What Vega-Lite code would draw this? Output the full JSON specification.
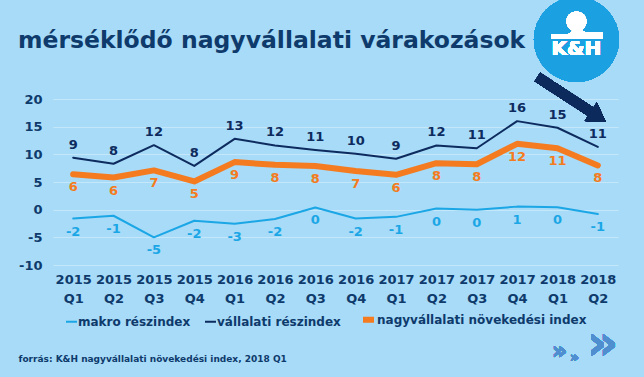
{
  "$schema": "https://vega.github.io/schema/vega-lite/v6.json",
  "width": 565,
  "height": 166,
  "autosize": {"type": "none"},
  "padding": {"left": 53, "top": 99, "right": 26, "bottom": 112},
  "background": "#a7dbf7",
  "config": {
    "view": {"stroke": null},
    "font": "DejaVu Sans",
    "axisY": {"tickCount": 7, "labelOverlap": false},
    "locale": {"number": {"decimal": ".", "thousands": ",", "grouping": [3], "currency": ["$", ""], "minus": "-"}}
  },
  "title": {
    "text": "mérséklődő nagyvállalati várakozások",
    "anchor": "start",
    "frame": "group",
    "font": "DejaVu Sans",
    "fontSize": 23.5,
    "fontWeight": "bold",
    "color": "#0e3a6c",
    "dx": -35,
    "offset": 0,
    "dy": 75,
    "baseline": "alphabetic"
  },
  "data": {
    "values": [
      {"q": "2015 Q1", "s": "makro részindex", "v": -1.6},
      {"q": "2015 Q2", "s": "makro részindex", "v": -1.1},
      {"q": "2015 Q3", "s": "makro részindex", "v": -5.0},
      {"q": "2015 Q4", "s": "makro részindex", "v": -2.0},
      {"q": "2016 Q1", "s": "makro részindex", "v": -2.55},
      {"q": "2016 Q2", "s": "makro részindex", "v": -1.7},
      {"q": "2016 Q3", "s": "makro részindex", "v": 0.4},
      {"q": "2016 Q4", "s": "makro részindex", "v": -1.6},
      {"q": "2017 Q1", "s": "makro részindex", "v": -1.3},
      {"q": "2017 Q2", "s": "makro részindex", "v": 0.2},
      {"q": "2017 Q3", "s": "makro részindex", "v": 0.0},
      {"q": "2017 Q4", "s": "makro részindex", "v": 0.55},
      {"q": "2018 Q1", "s": "makro részindex", "v": 0.45},
      {"q": "2018 Q2", "s": "makro részindex", "v": -0.8},
      {"q": "2015 Q1", "s": "vállalati részindex", "v": 9.4},
      {"q": "2015 Q2", "s": "vállalati részindex", "v": 8.3},
      {"q": "2015 Q3", "s": "vállalati részindex", "v": 11.65},
      {"q": "2015 Q4", "s": "vállalati részindex", "v": 7.9},
      {"q": "2016 Q1", "s": "vállalati részindex", "v": 12.8},
      {"q": "2016 Q2", "s": "vállalati részindex", "v": 11.6},
      {"q": "2016 Q3", "s": "vállalati részindex", "v": 10.8},
      {"q": "2016 Q4", "s": "vállalati részindex", "v": 10.1},
      {"q": "2017 Q1", "s": "vállalati részindex", "v": 9.2},
      {"q": "2017 Q2", "s": "vállalati részindex", "v": 11.6},
      {"q": "2017 Q3", "s": "vállalati részindex", "v": 11.1},
      {"q": "2017 Q4", "s": "vállalati részindex", "v": 16.0},
      {"q": "2018 Q1", "s": "vállalati részindex", "v": 14.8},
      {"q": "2018 Q2", "s": "vállalati részindex", "v": 11.35},
      {"q": "2015 Q1", "s": "nagyvállalati növekedési index", "v": 6.4},
      {"q": "2015 Q2", "s": "nagyvállalati növekedési index", "v": 5.8},
      {"q": "2015 Q3", "s": "nagyvállalati növekedési index", "v": 7.1},
      {"q": "2015 Q4", "s": "nagyvállalati növekedési index", "v": 5.1},
      {"q": "2016 Q1", "s": "nagyvállalati növekedési index", "v": 8.6},
      {"q": "2016 Q2", "s": "nagyvállalati növekedési index", "v": 8.1},
      {"q": "2016 Q3", "s": "nagyvállalati növekedési index", "v": 7.9},
      {"q": "2016 Q4", "s": "nagyvállalati növekedési index", "v": 7.0},
      {"q": "2017 Q1", "s": "nagyvállalati növekedési index", "v": 6.3},
      {"q": "2017 Q2", "s": "nagyvállalati növekedési index", "v": 8.4},
      {"q": "2017 Q3", "s": "nagyvállalati növekedési index", "v": 8.2},
      {"q": "2017 Q4", "s": "nagyvállalati növekedési index", "v": 11.9},
      {"q": "2018 Q1", "s": "nagyvállalati növekedési index", "v": 11.1},
      {"q": "2018 Q2", "s": "nagyvállalati növekedési index", "v": 8.0}
    ]
  },
  "layer": [
    {
      "mark": {"type": "line", "strokeCap": "round", "strokeJoin": "round"},
      "encoding": {
        "x": {
          "field": "q", "type": "ordinal",
          "scale": {"type": "point", "padding": 0.5},
          "axis": {
            "title": "forrás: K&H nagyvállalati növekedési index, 2018 Q1",
            "titleX": -35, "titleY": 93, "titleAlign": "left", "titleBaseline": "middle",
            "titleFont": "DejaVu Sans", "titleFontSize": 9, "titleFontWeight": "bold", "titleColor": "#0e3a6c",
            "labelExpr": "split(datum.label, ' ')",
            "labelAngle": 0, "labelFont": "DejaVu Sans", "labelFontSize": 13, "labelFontWeight": "bold",
            "labelColor": "#0e3a6c", "labelLineHeight": 19, "labelPadding": 8,
            "ticks": false, "domain": false, "grid": false
          }
        },
        "y": {
          "field": "v", "type": "quantitative",
          "scale": {"domain": [-10, 20], "nice": false, "zero": false},
          "axis": {
            "title": null, "values": [-10, -5, 0, 5, 10, 15, 20], "tickCount": 7,
            "labelOverlap": false, "labelBound": false,
            "labelFont": "DejaVu Sans", "labelFontSize": 13, "labelFontWeight": "bold", "labelColor": "#0e3a6c",
            "labelPadding": 11, "ticks": false, "domain": false,
            "gridColor": "#ffffff", "gridOpacity": 0.35, "gridWidth": 1
          }
        },
        "color": {
          "field": "s", "type": "nominal",
          "scale": {"domain": ["makro részindex", "vállalati részindex", "nagyvállalati növekedési index"], "range": ["#1ba6e6", "#0d2b5e", "#f47b20"]},
          "legend": {
            "title": null, "orient": "none", "legendX": 12, "legendY": 212, "direction": "horizontal",
            "symbolType": "stroke", "symbolSize": 121, "labelFont": "DejaVu Sans", "labelFontSize": 12,
            "labelFontWeight": "bold", "labelColor": "#0e3a6c", "columnPadding": 10, "labelOffset": 0, "labelLimit": 400
          }
        },
        "strokeWidth": {
          "field": "s", "type": "ordinal",
          "scale": {"type": "ordinal", "domain": ["makro részindex", "vállalati részindex", "nagyvállalati növekedési index"], "range": [2, 2, 6]},
          "legend": {
            "title": null, "orient": "none", "legendX": 12, "legendY": 212, "direction": "horizontal",
            "symbolType": "stroke", "symbolSize": 121, "labelFont": "DejaVu Sans", "labelFontSize": 12,
            "labelFontWeight": "bold", "labelColor": "#0e3a6c", "columnPadding": 10, "labelOffset": 0, "labelLimit": 400
          }
        }
      }
    },
    {
      "transform": [{"filter": "datum.s === 'vállalati részindex'"}],
      "mark": {"type": "text", "dy": -13, "font": "DejaVu Sans", "fontSize": 13, "fontWeight": "bold", "color": "#0d2b5e"},
      "encoding": {
        "x": {"field": "q", "type": "ordinal"},
        "y": {"field": "v", "type": "quantitative"},
        "text": {"field": "v", "type": "quantitative", "format": ".0f"}
      }
    },
    {
      "transform": [{"filter": "datum.s === 'nagyvállalati növekedési index'"}],
      "mark": {"type": "text", "dy": 13, "font": "DejaVu Sans", "fontSize": 13, "fontWeight": "bold", "color": "#f47b20"},
      "encoding": {
        "x": {"field": "q", "type": "ordinal"},
        "y": {"field": "v", "type": "quantitative"},
        "text": {"field": "v", "type": "quantitative", "format": ".0f"}
      }
    },
    {
      "transform": [{"filter": "datum.s === 'makro részindex'"}],
      "mark": {"type": "text", "dy": 13, "font": "DejaVu Sans", "fontSize": 13, "fontWeight": "bold", "color": "#1ba6e6"},
      "encoding": {
        "x": {"field": "q", "type": "ordinal"},
        "y": {"field": "v", "type": "quantitative"},
        "text": {"field": "v", "type": "quantitative", "format": ".0f"}
      }
    },
    {
      "mark": {"type": "point", "shape": "circle", "filled": true, "size": 7225, "color": "#1ba0e2", "opacity": 1, "xOffset": 19},
      "encoding": {"x": {"datum": "2018 Q1", "type": "ordinal"}, "y": {"datum": 30.76, "type": "quantitative"}}
    },
    {
      "mark": {"type": "point", "shape": "circle", "filled": true, "size": 400, "color": "#ffffff", "opacity": 1, "xOffset": 19},
      "encoding": {"x": {"datum": "2018 Q1", "type": "ordinal"}, "y": {"datum": 34.0, "type": "quantitative"}}
    },
    {
      "mark": {"type": "point", "shape": "M-1,-0.04L-0.35,-0.04C-0.2,-0.04,-0.2,-0.24,0,-0.24C0.2,-0.24,0.25,-0.1,0.4,-0.1L1,-0.1L1,0.16L-1,0.16Z", "filled": true, "size": 2601, "color": "#ffffff", "opacity": 1, "xOffset": 19.5},
      "encoding": {"x": {"datum": "2018 Q1", "type": "ordinal"}, "y": {"datum": 31.57, "type": "quantitative"}}
    },
    {
      "mark": {"type": "text", "text": "K&H", "font": "DejaVu Sans", "fontSize": 20, "fontWeight": "bold", "color": "#ffffff", "baseline": "middle", "xOffset": 19},
      "encoding": {"x": {"datum": "2018 Q1", "type": "ordinal"}, "y": {"datum": 29.04, "type": "quantitative"}}
    },
    {
      "mark": {"type": "rule", "strokeWidth": 10, "color": "#0d2a5c", "xOffset": -20, "x2Offset": -1.5},
      "encoding": {
        "x": {"datum": "2018 Q1", "type": "ordinal"}, "x2": {"datum": "2018 Q2"},
        "y": {"datum": 23.98, "type": "quantitative"}, "y2": {"datum": 17.03}
      }
    },
    {
      "mark": {"type": "point", "shape": "M-0.6,-1L1,0L-0.6,1Z", "filled": true, "size": 484, "angle": 33, "color": "#0d2a5c", "opacity": 1, "xOffset": -1.5},
      "encoding": {"x": {"datum": "2018 Q2", "type": "ordinal"}, "y": {"datum": 17.03, "type": "quantitative"}}
    },
    {
      "mark": {"type": "text", "text": "»", "font": "DejaVu Sans", "fontSize": 24, "fontWeight": "bold", "color": "#4f8fd0", "baseline": "middle", "xOffset": 2},
      "encoding": {"x": {"datum": "2018 Q1", "type": "ordinal"}, "y": {"datum": -25.7, "type": "quantitative"}}
    },
    {
      "mark": {"type": "text", "text": "»", "font": "DejaVu Sans", "fontSize": 14, "fontWeight": "bold", "color": "#4f8fd0", "baseline": "middle", "xOffset": 17},
      "encoding": {"x": {"datum": "2018 Q1", "type": "ordinal"}, "y": {"datum": -26.8, "type": "quantitative"}}
    },
    {
      "mark": {"type": "text", "text": "»", "font": "DejaVu Sans", "fontSize": 48, "fontWeight": "bold", "color": "#4f8fd0", "baseline": "middle", "xOffset": 5},
      "encoding": {"x": {"datum": "2018 Q2", "type": "ordinal"}, "y": {"datum": -24.5, "type": "quantitative"}}
    }
  ]
}
